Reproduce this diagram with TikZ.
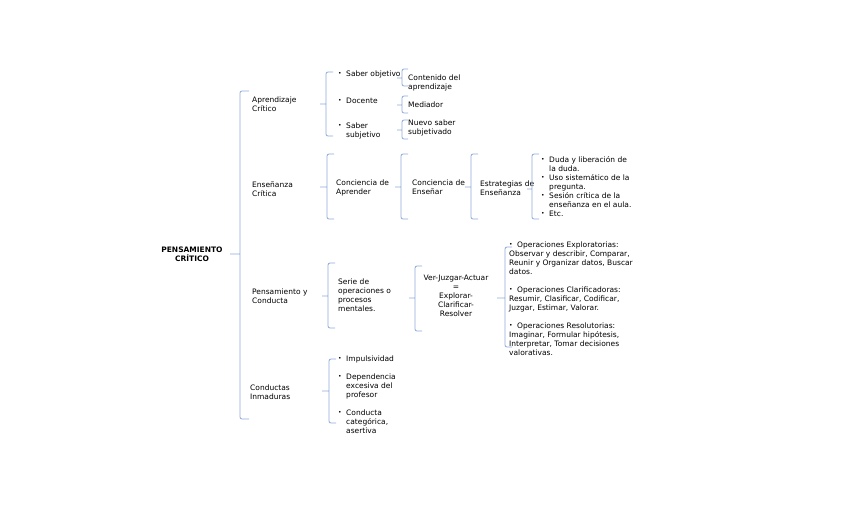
\documentclass[tikz,border=0pt]{standalone}
\usepackage{fontspec}
\setmainfont{DejaVu Sans}
\usepackage{xcolor}
\definecolor{llaveazul}{HTML}{8FAADC}
\usepackage{tikz}
\usetikzlibrary{positioning}
\newcommand{\vineta}{\raisebox{1.1pt}{\scalebox{0.8}{\textbullet}}}
\newcommand{\items}[1]{\begin{tabular}{@{}l@{\hspace{4.5pt}}l@{}}#1\end{tabular}}

\begin{document}
\begin{tikzpicture}[
  x=1pt,y=-1pt,
  font=\fontsize{7.5}{9}\selectfont,
  txt/.style={anchor=north west,inner sep=0pt,align=left},
  ctxt/.style={anchor=north,inner sep=0pt,align=center},
  llave/.style={draw=llaveazul,line width=0.8pt,rounded corners=2pt}
]
\useasboundingbox[fill=white] (0,0) rectangle (848,509);

% Raiz y primer nivel
\node[ctxt,font=\fontsize{7.5}{9}\selectfont\bfseries] (raiz) at (192,247) {PENSAMIENTO\\CRÍTICO};
\node[txt] (aprend) at (252,97) {Aprendizaje\\Crítico};
\node[txt] (ensen) at (252,181) {Enseñanza\\Crítica};
\node[txt] (pycond) at (252,289) {Pensamiento y\\Conducta};
\node[txt] (cinmad) at (250,385) {Conductas\\Inmaduras};

% Aprendizaje critico
\node[txt] (sobj) at (338,70) {\items{\vineta & Saber objetivo}};
\node[txt] (docen) at (338,97) {\items{\vineta & Docente}};
\node[txt] (ssubj) at (338,122) {\items{\vineta & Saber\\ & subjetivo}};
\node[txt] (conten) at (408,75) {Contenido del\\aprendizaje};
\node[txt] (mediad) at (408,102) {Mediador};
\node[txt] (nuevo) at (408,120) {Nuevo saber\\subjetivado};

% Ensenanza critica
\node[txt] (concap) at (336,180) {Conciencia de\\Aprender};
\node[txt] (concen) at (412,180) {Conciencia de\\Enseñar};
\node[txt] (estrat) at (480,181) {Estrategias de\\Enseñanza};
\node[txt] (listaest) at (541,156) {\items{\vineta & Duda y liberación de\\
  & la duda.\\ \vineta & Uso sistemático de la\\ & pregunta.\\
  \vineta & Sesión crítica de la\\ & enseñanza en el aula.\\ \vineta & Etc.}};

% Pensamiento y conducta
\node[txt] (serie) at (338,279) {Serie de\\operaciones o\\procesos\\mentales.};
\node[ctxt] (vja) at (456,275) {Ver-Juzgar-Actuar\\=\\Explorar-\\Clarificar-\\Resolver};
\node[txt] (operac) at (509,242) {\vineta\hspace{4.5pt}Operaciones Exploratorias:\\
  Observar y describir, Comparar,\\Reunir y Organizar datos, Buscar\\datos.\\[9pt]
  \vineta\hspace{4.5pt}Operaciones Clarificadoras:\\Resumir, Clasificar, Codificar,\\
  Juzgar, Estimar, Valorar.\\[9pt]
  \vineta\hspace{4.5pt}Operaciones Resolutorias:\\Imaginar, Formular hipótesis,\\
  Interpretar, Tomar decisiones\\valorativas.};

% Conductas inmaduras
\node[txt] (impul) at (338,355) {\items{\vineta & Impulsividad}};
\node[txt] (depend) at (338,373) {\items{\vineta & Dependencia\\ & excesiva del\\ & profesor}};
\node[txt] (conduc) at (338,409) {\items{\vineta & Conducta\\ & categórica,\\ & asertiva}};

% Llaves: x / arriba / abajo / medio / inicio del pico / gancho
\foreach \bx/\bt/\bb/\bm/\bl/\bh in {240/91/419/254/230/9,
  326/72/136/104/320/7, 402/69/86/78/397/6, 402/96/113/105/397/6, 402/120/139/130/397/6,
  327/154/219/187/320/7, 401/154/219/187/395/7, 471/154/219/187/465/7, 532/154/219/189/527/7,
  328/263/328/296/322/7, 415/266/331/298/409/7, 505/247/347/298/497/7,
  329/359/423/391/322/7}
  \draw[llave] (\bx+\bh,\bt) -- (\bx,\bt) -- (\bx,\bb) -- (\bx+\bh,\bb)
    (\bl,\bm) -- (\bx,\bm);

\end{tikzpicture}
\end{document}
